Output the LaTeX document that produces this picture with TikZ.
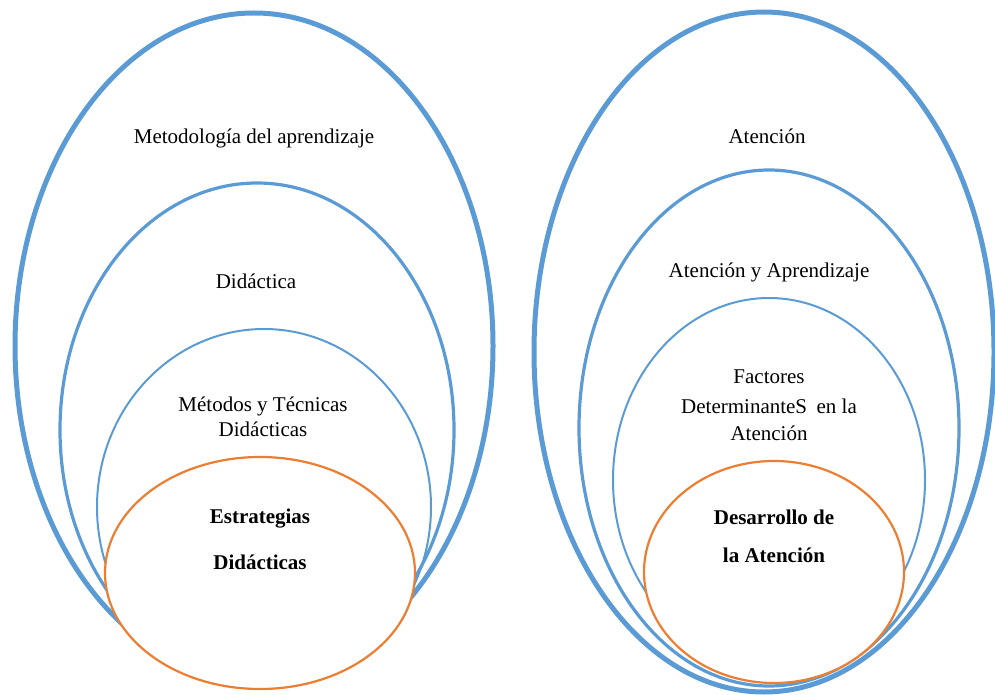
\documentclass[tikz,border=0pt]{standalone}
\usepackage{fontspec}
\setmainfont{Liberation Serif}
\usepackage{xcolor}
\usetikzlibrary{positioning}
\definecolor{ringblue}{HTML}{5B9BD5}
\definecolor{coreorange}{HTML}{ED7D31}
\tikzset{%
	ringOuter/.style = {draw=ringblue, line width=5pt},
	ringMid/.style   = {draw=ringblue, line width=3.2pt},
	ringInner/.style = {draw=ringblue, line width=2pt},
	core/.style      = {draw=coreorange, fill=white, line width=2.2pt},
	label/.style     = {anchor=base, align=center, inner sep=0pt, font=\fontsize{21}{27}\selectfont},
	corelabel/.style = {anchor=base, align=center, inner sep=0pt, font=\fontsize{21}{46}\selectfont\bfseries},
}

\begin{document}
\begin{tikzpicture}[x=1pt,y=-1pt]
		\useasboundingbox (0,0) rectangle (995,695);
		% left set
		\draw[ringOuter] (254,346) ellipse (239 and 333);
		\draw[ringMid] (257,430) ellipse (197 and 247);
		\draw[ringInner] (264,507) ellipse (167 and 178);
		\draw[core] (260,573) ellipse (155 and 116);
		\node[label] (metodo) at (254,144) {Metodología del aprendizaje};
		\node[label] (didac) at (256,288) {Didáctica};
		\node[label, anchor=north] (metodos) at (263,397) {Métodos y Técnicas\\[-2pt]Didácticas};
		\node[corelabel, anchor=north] (estrat) at (260,509) {Estrategias\\Didácticas};
		% right set
		\draw[ringOuter] (764,352) ellipse (230 and 340);
		\draw[ringMid] (769,428) ellipse (190 and 258);
		\draw[ringInner] (769,480) ellipse (156 and 182);
		\draw[core] (774,572) ellipse (130 and 111);
		\node[label] (atenc) at (767,144) {Atención};
		\node[label] (atapr) at (769,277) {Atención y Aprendizaje};
		\node[label, anchor=north] (factor) at (769,370) {Factores\\[3pt]DeterminanteS\hspace{0.45em}en la\\Atención};
		\node[corelabel, anchor=north, font=\fontsize{21}{38}\selectfont\bfseries] (desarr) at (774,510) {Desarrollo de\\la Atención};
\end{tikzpicture}
\end{document}
